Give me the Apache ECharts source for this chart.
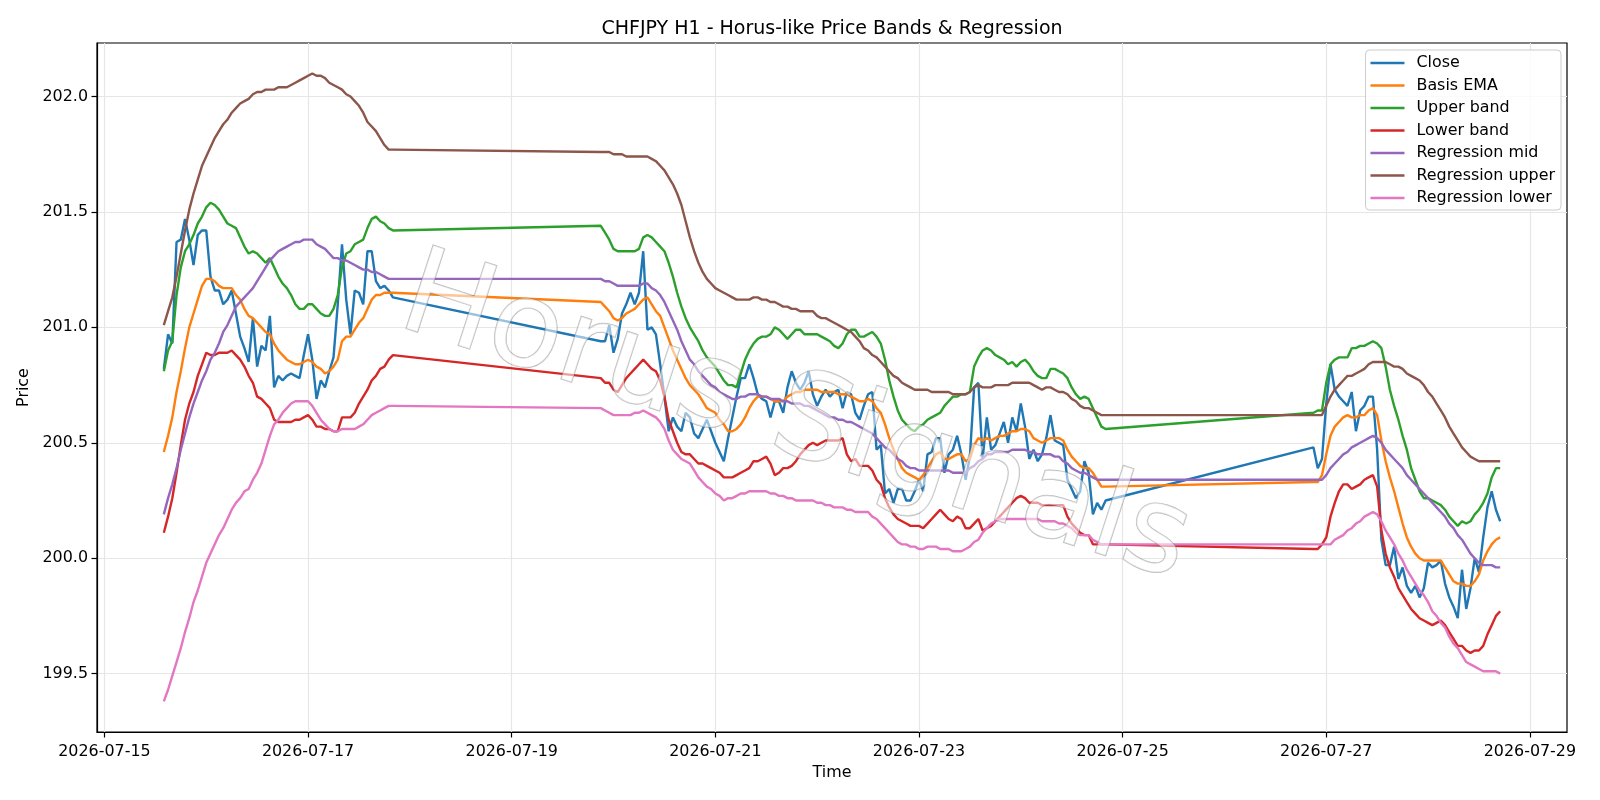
<!DOCTYPE html>
<html>
<head>
<meta charset="utf-8">
<title>CHFJPY H1 - Horus-like Price Bands & Regression</title>
<script src="https://cdn.jsdelivr.net/npm/echarts@6/dist/echarts.min.js"></script>
<style>
html,body{margin:0;padding:0;background:#fff;}
#chart{width:1600px;height:800px;}
</style>
</head>
<body>
<div id="chart"></div>
<script>
// hourly bars, three trading blocks (weekend gaps between them)
var segStart = ['2026-07-15T14:00:00Z', '2026-07-19T21:00:00Z', '2026-07-26T21:00:00Z'];
var segLen = [55, 120, 45];
var tickDays = ['2026-07-15', '2026-07-17', '2026-07-19', '2026-07-21', '2026-07-23', '2026-07-25', '2026-07-27', '2026-07-29'];
var priceTicks = [199.5, 200.0, 200.5, 201.0, 201.5, 202.0];

var closeVals = [
	200.82, 200.97, 200.93, 201.37, 201.38, 201.47, 201.38, 201.27, 201.40, 201.42,
	201.42, 201.22, 201.16, 201.16, 201.10, 201.12, 201.16, 201.06, 200.96, 200.91,
	200.85, 201.04, 200.83, 200.92, 200.90, 201.05, 200.74, 200.79, 200.77, 200.79,
	200.80, 200.79, 200.78, 200.88, 200.97, 200.86, 200.69, 200.77, 200.74, 200.81,
	200.87, 201.10, 201.36, 201.12, 200.97, 201.16, 201.15, 201.10, 201.33, 201.33,
	201.20, 201.17, 201.18, 201.16, 201.13,
	200.94, 200.94, 201.01, 200.89, 200.95, 201.06, 201.10, 201.15, 201.10, 201.15,
	201.33, 200.99, 201.00, 200.97, 200.84, 200.70, 200.55, 200.61, 200.57, 200.55,
	200.63, 200.61, 200.54, 200.52, 200.56, 200.60, 200.55, 200.50, 200.46, 200.42,
	200.52, 200.61, 200.70, 200.78, 200.78, 200.84, 200.78, 200.71, 200.69, 200.68,
	200.61, 200.68, 200.68, 200.63, 200.74, 200.81, 200.76, 200.73, 200.76, 200.81,
	200.71, 200.66, 200.70, 200.73, 200.70, 200.72, 200.73, 200.65, 200.72, 200.71,
	200.63, 200.60, 200.66, 200.71, 200.72, 200.47, 200.49, 200.28, 200.30, 200.24,
	200.30, 200.30, 200.25, 200.25, 200.29, 200.34, 200.29, 200.45, 200.46, 200.52,
	200.52, 200.37, 200.45, 200.47, 200.53, 200.45, 200.34, 200.44, 200.74, 200.76,
	200.43, 200.61, 200.47, 200.49, 200.54, 200.59, 200.50, 200.61, 200.55, 200.67,
	200.57, 200.43, 200.47, 200.42, 200.45, 200.52, 200.62, 200.51, 200.50, 200.49,
	200.34, 200.30, 200.26, 200.29, 200.42, 200.37, 200.19, 200.24, 200.21, 200.25,
	200.48, 200.39, 200.43, 200.67, 200.84, 200.73, 200.70, 200.68, 200.66, 200.72,
	200.55, 200.64, 200.66, 200.70, 200.70, 200.47, 200.08, 199.97, 199.97, 200.05,
	199.91, 199.96, 199.88, 199.85, 199.88, 199.83, 199.87, 199.98, 199.96, 199.97,
	199.99, 199.89, 199.83, 199.79, 199.74, 199.95, 199.78, 199.87, 200.00, 199.94,
	200.09, 200.22, 200.29, 200.21, 200.16
];
var basisVals = [
	200.46, 200.53, 200.61, 200.72, 200.81, 200.91, 201.00, 201.06, 201.12, 201.18,
	201.21, 201.21, 201.20, 201.18, 201.17, 201.17, 201.17, 201.14, 201.12, 201.08,
	201.05, 201.04, 201.02, 201.00, 200.98, 200.97, 200.93, 200.90, 200.88, 200.86,
	200.85, 200.84, 200.84, 200.85, 200.86, 200.85, 200.83, 200.82, 200.80, 200.81,
	200.83, 200.86, 200.94, 200.96, 200.96, 200.99, 201.02, 201.04, 201.08, 201.12,
	201.14, 201.14, 201.15, 201.15, 201.15,
	201.11, 201.09, 201.07, 201.04, 201.03, 201.04, 201.06, 201.07, 201.08, 201.10,
	201.12, 201.13, 201.10, 201.07, 201.05, 201.00, 200.95, 200.90, 200.86, 200.82,
	200.78, 200.75, 200.73, 200.71, 200.68, 200.65, 200.64, 200.63, 200.60, 200.58,
	200.55, 200.55, 200.56, 200.58, 200.61, 200.65, 200.68, 200.70, 200.70, 200.70,
	200.69, 200.68, 200.68, 200.68, 200.70, 200.71, 200.72, 200.72, 200.73, 200.73,
	200.73, 200.73, 200.72, 200.72, 200.72, 200.72, 200.71, 200.71, 200.71, 200.70,
	200.69, 200.68, 200.68, 200.69, 200.68, 200.65, 200.63, 200.58, 200.52, 200.47,
	200.43, 200.39, 200.37, 200.36, 200.35, 200.34, 200.36, 200.39, 200.42, 200.45,
	200.46, 200.43, 200.43, 200.44, 200.45, 200.45, 200.42, 200.43, 200.49, 200.52,
	200.51, 200.52, 200.51, 200.52, 200.53, 200.53, 200.54, 200.55, 200.55, 200.56,
	200.56, 200.55, 200.52, 200.51, 200.50, 200.51, 200.52, 200.52, 200.52, 200.51,
	200.47, 200.44, 200.42, 200.40, 200.39, 200.39, 200.37, 200.34, 200.31, 200.31,
	200.33, 200.33, 200.36, 200.45, 200.53, 200.57, 200.59, 200.61, 200.62, 200.61,
	200.61, 200.62, 200.62, 200.64, 200.65, 200.62, 200.51, 200.42, 200.35, 200.29,
	200.22, 200.15, 200.09, 200.05, 200.02, 200.00, 199.99, 199.99, 199.99, 199.99,
	199.99, 199.96, 199.93, 199.90, 199.89, 199.89, 199.88, 199.88, 199.90, 199.93,
	199.99, 200.03, 200.06, 200.08, 200.09
];
var upperVals = [
	200.81, 200.90, 200.94, 201.14, 201.26, 201.33, 201.36, 201.40, 201.45, 201.48,
	201.52, 201.54, 201.53, 201.51, 201.48, 201.45, 201.44, 201.43, 201.39, 201.35,
	201.32, 201.33, 201.32, 201.30, 201.28, 201.30, 201.26, 201.22, 201.19, 201.17,
	201.14, 201.10, 201.08, 201.08, 201.10, 201.10, 201.08, 201.06, 201.05, 201.05,
	201.08, 201.14, 201.26, 201.32, 201.33, 201.36, 201.37, 201.38, 201.43, 201.47,
	201.48, 201.46, 201.45, 201.43, 201.42,
	201.44, 201.41, 201.38, 201.34, 201.33, 201.33, 201.33, 201.33, 201.33, 201.34,
	201.39, 201.40, 201.39, 201.37, 201.35, 201.33, 201.28, 201.22, 201.15, 201.09,
	201.04, 201.00, 200.97, 200.94, 200.90, 200.87, 200.85, 200.83, 200.80, 200.77,
	200.75, 200.75, 200.74, 200.80, 200.86, 200.90, 200.93, 200.95, 200.96, 200.96,
	200.97, 201.00, 200.99, 200.97, 200.95, 200.97, 200.99, 200.99, 200.97, 200.97,
	200.97, 200.97, 200.96, 200.95, 200.94, 200.92, 200.91, 200.93, 200.97, 200.99,
	200.99, 200.96, 200.96, 200.97, 200.98, 200.96, 200.93, 200.86, 200.77, 200.70,
	200.64, 200.60, 200.58, 200.56, 200.55, 200.57, 200.58, 200.60, 200.61, 200.62,
	200.63, 200.66, 200.68, 200.70, 200.70, 200.71, 200.71, 200.72, 200.83, 200.87,
	200.90, 200.91, 200.90, 200.88, 200.87, 200.86, 200.84, 200.85, 200.83, 200.85,
	200.86, 200.84, 200.81, 200.79, 200.78, 200.78, 200.82, 200.82, 200.81, 200.80,
	200.78, 200.74, 200.71, 200.69, 200.70, 200.69, 200.65, 200.61, 200.57, 200.56,
	200.63, 200.64, 200.64, 200.76, 200.84, 200.86, 200.87, 200.87, 200.87, 200.91,
	200.91, 200.92, 200.92, 200.93, 200.94, 200.93, 200.91, 200.83, 200.73, 200.66,
	200.60, 200.53, 200.47, 200.39, 200.34, 200.29, 200.26, 200.26, 200.25, 200.24,
	200.23, 200.21, 200.18, 200.16, 200.14, 200.16, 200.15, 200.16, 200.19, 200.21,
	200.24, 200.28, 200.35, 200.39, 200.39
];
var lowerVals = [
	200.11, 200.18, 200.26, 200.37, 200.49, 200.60, 200.67, 200.72, 200.79, 200.84,
	200.89, 200.88, 200.88, 200.89, 200.89, 200.89, 200.90, 200.88, 200.86, 200.83,
	200.79, 200.76, 200.70, 200.69, 200.67, 200.65, 200.60, 200.59, 200.59, 200.59,
	200.59, 200.60, 200.60, 200.61, 200.62, 200.60, 200.57, 200.57, 200.56, 200.56,
	200.55, 200.55, 200.61, 200.61, 200.61, 200.63, 200.67, 200.70, 200.73, 200.77,
	200.79, 200.82, 200.83, 200.86, 200.88,
	200.78, 200.76, 200.76, 200.73, 200.72, 200.75, 200.78, 200.80, 200.82, 200.84,
	200.86, 200.84, 200.82, 200.81, 200.77, 200.70, 200.60, 200.55, 200.50, 200.46,
	200.45, 200.45, 200.43, 200.41, 200.41, 200.40, 200.39, 200.38, 200.37, 200.35,
	200.35, 200.35, 200.36, 200.37, 200.38, 200.39, 200.42, 200.42, 200.43, 200.44,
	200.41, 200.36, 200.37, 200.39, 200.39, 200.40, 200.42, 200.45, 200.47, 200.49,
	200.50, 200.49, 200.50, 200.51, 200.51, 200.51, 200.51, 200.52, 200.45, 200.42,
	200.43, 200.40, 200.40, 200.40, 200.38, 200.34, 200.32, 200.26, 200.22, 200.19,
	200.17, 200.16, 200.15, 200.14, 200.14, 200.14, 200.13, 200.15, 200.17, 200.19,
	200.21, 200.19, 200.17, 200.16, 200.18, 200.17, 200.13, 200.13, 200.15, 200.17,
	200.12, 200.13, 200.14, 200.16, 200.18, 200.20, 200.22, 200.24, 200.26, 200.27,
	200.26, 200.24, 200.24, 200.24, 200.23, 200.23, 200.23, 200.23, 200.23, 200.23,
	200.18, 200.15, 200.13, 200.11, 200.10, 200.10, 200.06, 200.06, 200.06, 200.06,
	200.04, 200.04, 200.06, 200.09, 200.18, 200.24, 200.29, 200.32, 200.32, 200.30,
	200.31, 200.32, 200.34, 200.35, 200.36, 200.31, 200.12, 200.02, 199.96, 199.92,
	199.87, 199.84, 199.81, 199.78, 199.76, 199.74, 199.73, 199.72, 199.71, 199.72,
	199.73, 199.71, 199.68, 199.65, 199.62, 199.62, 199.60, 199.59, 199.60, 199.60,
	199.62, 199.67, 199.71, 199.75, 199.77
];
var regMidVals = [
	200.19, 200.26, 200.32, 200.39, 200.47, 200.54, 200.61, 200.67, 200.72, 200.77,
	200.81, 200.86, 200.89, 200.93, 200.98, 201.01, 201.05, 201.09, 201.11, 201.13,
	201.15, 201.17, 201.20, 201.23, 201.26, 201.29, 201.31, 201.33, 201.34, 201.35,
	201.36, 201.37, 201.37, 201.38, 201.38, 201.38, 201.36, 201.35, 201.34, 201.32,
	201.30, 201.30, 201.29, 201.29, 201.28, 201.27, 201.26, 201.25, 201.25, 201.24,
	201.24, 201.23, 201.22, 201.21, 201.21,
	201.21, 201.20, 201.20, 201.19, 201.18, 201.18, 201.18, 201.18, 201.18, 201.18,
	201.19, 201.19, 201.17, 201.16, 201.14, 201.11, 201.07, 201.03, 200.99, 200.94,
	200.90, 200.86, 200.84, 200.81, 200.79, 200.77, 200.75, 200.74, 200.72, 200.71,
	200.70, 200.69, 200.69, 200.70, 200.70, 200.71, 200.71, 200.71, 200.70, 200.70,
	200.69, 200.69, 200.69, 200.68, 200.68, 200.67, 200.67, 200.67, 200.66, 200.66,
	200.65, 200.64, 200.63, 200.62, 200.61, 200.61, 200.60, 200.60, 200.59, 200.59,
	200.58, 200.57, 200.56, 200.55, 200.54, 200.52, 200.50, 200.48, 200.47, 200.45,
	200.43, 200.42, 200.40, 200.39, 200.39, 200.38, 200.38, 200.38, 200.38, 200.38,
	200.38, 200.38, 200.38, 200.37, 200.37, 200.37, 200.37, 200.39, 200.40, 200.42,
	200.43, 200.45, 200.45, 200.46, 200.46, 200.46, 200.46, 200.47, 200.47, 200.47,
	200.47, 200.46, 200.46, 200.45, 200.45, 200.45, 200.45, 200.44, 200.44, 200.42,
	200.41, 200.39, 200.38, 200.37, 200.37, 200.36, 200.35, 200.34, 200.34, 200.34,
	200.34, 200.34, 200.34, 200.36, 200.39, 200.41, 200.43, 200.45, 200.46, 200.48,
	200.49, 200.50, 200.51, 200.52, 200.53, 200.52, 200.50, 200.47, 200.45, 200.43,
	200.41, 200.39, 200.36, 200.34, 200.32, 200.30, 200.28, 200.26, 200.24, 200.22,
	200.20, 200.18, 200.15, 200.13, 200.10, 200.08, 200.05, 200.02, 200.00, 199.98,
	199.97, 199.97, 199.97, 199.96, 199.96
];
var regUpperVals = [
	201.01, 201.07, 201.13, 201.22, 201.32, 201.42, 201.51, 201.58, 201.64, 201.70,
	201.74, 201.78, 201.82, 201.85, 201.88, 201.90, 201.93, 201.95, 201.97, 201.98,
	201.99, 202.01, 202.02, 202.02, 202.03, 202.03, 202.03, 202.04, 202.04, 202.04,
	202.05, 202.06, 202.07, 202.08, 202.09, 202.10, 202.09, 202.09, 202.08, 202.06,
	202.05, 202.04, 202.03, 202.01, 202.00, 201.98, 201.96, 201.93, 201.89, 201.87,
	201.85, 201.82, 201.79, 201.77, 201.77,
	201.76, 201.76, 201.76, 201.75, 201.75, 201.75, 201.74, 201.74, 201.74, 201.74,
	201.74, 201.74, 201.73, 201.72, 201.70, 201.68, 201.65, 201.62, 201.58, 201.53,
	201.46, 201.39, 201.33, 201.28, 201.24, 201.21, 201.19, 201.17, 201.16, 201.15,
	201.14, 201.13, 201.12, 201.12, 201.12, 201.12, 201.13, 201.13, 201.12, 201.12,
	201.11, 201.11, 201.10, 201.09, 201.09, 201.08, 201.08, 201.07, 201.07, 201.07,
	201.07, 201.05, 201.04, 201.04, 201.03, 201.02, 201.01, 201.00, 200.99, 200.98,
	200.96, 200.94, 200.91, 200.90, 200.88, 200.87, 200.85, 200.83, 200.81, 200.79,
	200.78, 200.76, 200.75, 200.74, 200.73, 200.73, 200.73, 200.73, 200.72, 200.72,
	200.72, 200.72, 200.72, 200.71, 200.71, 200.71, 200.71, 200.72, 200.74, 200.75,
	200.74, 200.74, 200.74, 200.75, 200.75, 200.75, 200.75, 200.76, 200.76, 200.76,
	200.76, 200.76, 200.75, 200.74, 200.73, 200.74, 200.74, 200.73, 200.72, 200.72,
	200.71, 200.69, 200.68, 200.66, 200.65, 200.65, 200.64, 200.63, 200.62, 200.62,
	200.62, 200.62, 200.62, 200.66, 200.70, 200.73, 200.75, 200.77, 200.79, 200.79,
	200.80, 200.81, 200.82, 200.84, 200.85, 200.85, 200.85, 200.85, 200.84, 200.83,
	200.83, 200.82, 200.80, 200.79, 200.78, 200.77, 200.75, 200.72, 200.70, 200.67,
	200.64, 200.61, 200.57, 200.54, 200.51, 200.48, 200.46, 200.44, 200.43, 200.42,
	200.42, 200.42, 200.42, 200.42, 200.42
];
var regLowerVals = [
	199.38, 199.43, 199.49, 199.55, 199.61, 199.68, 199.74, 199.81, 199.86, 199.92,
	199.98, 200.02, 200.06, 200.10, 200.13, 200.17, 200.21, 200.24, 200.26, 200.29,
	200.30, 200.34, 200.37, 200.41, 200.47, 200.53, 200.58, 200.60, 200.63, 200.65,
	200.67, 200.68, 200.68, 200.68, 200.68, 200.66, 200.63, 200.60, 200.58, 200.56,
	200.55, 200.55, 200.56, 200.56, 200.56, 200.56, 200.57, 200.58, 200.60, 200.62,
	200.63, 200.64, 200.65, 200.66, 200.66,
	200.65, 200.64, 200.63, 200.62, 200.62, 200.62, 200.62, 200.62, 200.63, 200.63,
	200.64, 200.63, 200.62, 200.61, 200.59, 200.56, 200.51, 200.47, 200.45, 200.43,
	200.42, 200.41, 200.38, 200.35, 200.33, 200.31, 200.30, 200.28, 200.27, 200.25,
	200.26, 200.26, 200.27, 200.28, 200.28, 200.29, 200.29, 200.29, 200.29, 200.29,
	200.28, 200.28, 200.27, 200.27, 200.26, 200.26, 200.25, 200.25, 200.25, 200.25,
	200.25, 200.24, 200.24, 200.23, 200.23, 200.22, 200.22, 200.22, 200.21, 200.21,
	200.20, 200.20, 200.20, 200.20, 200.18, 200.17, 200.15, 200.13, 200.11, 200.09,
	200.07, 200.06, 200.06, 200.05, 200.05, 200.04, 200.04, 200.05, 200.05, 200.05,
	200.04, 200.04, 200.04, 200.03, 200.03, 200.03, 200.04, 200.05, 200.07, 200.08,
	200.11, 200.13, 200.15, 200.16, 200.17, 200.17, 200.17, 200.17, 200.17, 200.17,
	200.17, 200.17, 200.17, 200.17, 200.16, 200.16, 200.16, 200.16, 200.15, 200.15,
	200.14, 200.13, 200.11, 200.10, 200.10, 200.10, 200.08, 200.07, 200.06, 200.06,
	200.06, 200.06, 200.06, 200.06, 200.06, 200.08, 200.09, 200.10, 200.12, 200.13,
	200.15, 200.16, 200.18, 200.19, 200.20, 200.19, 200.16, 200.12, 200.09, 200.06,
	200.02, 199.99, 199.95, 199.92, 199.89, 199.86, 199.84, 199.81, 199.77, 199.75,
	199.72, 199.70, 199.66, 199.63, 199.61, 199.58, 199.55, 199.54, 199.53, 199.52,
	199.51, 199.51, 199.51, 199.51, 199.50
];

var HOUR = 3600000;
var times = [];
for (var s = 0; s < segStart.length; s++) {
	var t0 = Date.parse(segStart[s]);
	for (var k = 0; k < segLen[s]; k++) {
		times.push(t0 + k * HOUR);
	}
}

function pairs(vals) {
	return vals.map(function(v, i) { return [times[i], v]; });
}
function pad(n) { return n < 10 ? '0' + n : '' + n; }

var dayTicks = tickDays.map(function(d) { return Date.parse(d + 'T00:00:00Z'); });
var xMin = times[0] - 15.75 * HOUR;
var xMax = times[times.length - 1] + 15.75 * HOUR;

var font = '"DejaVu Sans", "Liberation Sans", sans-serif';
var fs = 15.9;
var seriesDef = [
	['Close', closeVals, '#1f77b4'],
	['Basis EMA', basisVals, '#ff7f0e'],
	['Upper band', upperVals, '#2ca02c'],
	['Lower band', lowerVals, '#d62728'],
	['Regression mid', regMidVals, '#9467bd'],
	['Regression upper', regUpperVals, '#8c564b'],
	['Regression lower', regLowerVals, '#e377c2']
];

var chart = echarts.init(document.getElementById('chart'), null, {renderer: 'canvas'});
var option = {
	animation: false,
	backgroundColor: '#ffffff',
	title: {
		text: 'CHFJPY H1 - Horus-like Price Bands & Regression',
		left: 827,
		top: 15,
		textAlign: 'center',
		textStyle: {fontFamily: font, fontSize: 19, fontWeight: 'normal', color: '#000'}
	},
	legend: {
		orient: 'vertical',
		right: 39,
		top: 50,
		padding: [5, 6, 4, 5],
		itemWidth: 34,
		itemHeight: 2.4,
		itemGap: 6.5,
		icon: 'rect',
		backgroundColor: 'rgba(255,255,255,0.8)',
		borderColor: '#cccccc',
		borderWidth: 1,
		borderRadius: 4,
		textStyle: {fontFamily: font, fontSize: fs, lineHeight: 16, color: '#000', padding: [0, 0, 0, 7]},
		data: seriesDef.map(function(d) { return d[0]; })
	},
	grid: {
		left: 97, right: 33, top: 43, bottom: 68,
		show: true, borderColor: '#000', borderWidth: 1.2
	},
	xAxis: {
		type: 'value',
		min: xMin,
		max: xMax,
		name: 'Time',
		nameLocation: 'middle',
		nameGap: 33,
		nameTextStyle: {fontFamily: font, fontSize: fs, color: '#000'},
		axisLine: {show: true, onZero: false, lineStyle: {color: '#000', width: 1.2}},
		axisTick: {show: true, customValues: dayTicks, length: 5.5, lineStyle: {color: '#000', width: 1.2}},
		axisLabel: {
			customValues: dayTicks, margin: 12, color: '#000', fontFamily: font, fontSize: fs,
			formatter: function(v) {
				var d = new Date(v);
				return d.getUTCFullYear() + '-' + pad(d.getUTCMonth() + 1) + '-' + pad(d.getUTCDate());
			}
		},
		splitLine: {show: true, lineStyle: {color: '#e6e6e6', width: 1.2}}
	},
	yAxis: {
		type: 'value',
		min: 199.247,
		max: 202.232,
		name: 'Price',
		nameLocation: 'middle',
		nameGap: 61,
		nameTextStyle: {fontFamily: font, fontSize: fs, color: '#000'},
		axisLine: {show: true, lineStyle: {color: '#000', width: 1.2}},
		axisTick: {show: true, customValues: priceTicks, length: 5.5, lineStyle: {color: '#000', width: 1.2}},
		axisLabel: {
			customValues: priceTicks, margin: 9, color: '#000', fontFamily: font, fontSize: fs,
			formatter: function(v) { return v.toFixed(1); }
		},
		splitLine: {show: true, lineStyle: {color: '#e6e6e6', width: 1.2}}
	},
	graphic: [{
		type: 'text',
		x: 795,
		y: 422,
		rotation: -18 * Math.PI / 180,
		z: 100,
		silent: true,
		style: {
			text: 'Horus Signals',
			font: 'normal 120px "DejaVu Sans"',
			textAlign: 'center',
			textVerticalAlign: 'middle',
			align: 'center',
			verticalAlign: 'middle',
			fill: 'rgba(255,255,255,0.55)',
			stroke: 'rgba(120,120,120,0.5)',
			lineWidth: 1.4,
			shadowColor: 'rgba(0,0,0,0.22)',
			shadowOffsetX: 3,
			shadowOffsetY: 3,
			shadowBlur: 2
		}
	}],
	series: seriesDef.map(function(d) {
		return {
			name: d[0],
			type: 'line',
			data: pairs(d[1]),
			showSymbol: false,
			symbol: 'none',
			silent: true,
			color: d[2],
			lineStyle: {color: d[2], width: 2.4},
			emphasis: {disabled: true}
		};
	})
};
chart.setOption(option);
</script>
</body>
</html>
